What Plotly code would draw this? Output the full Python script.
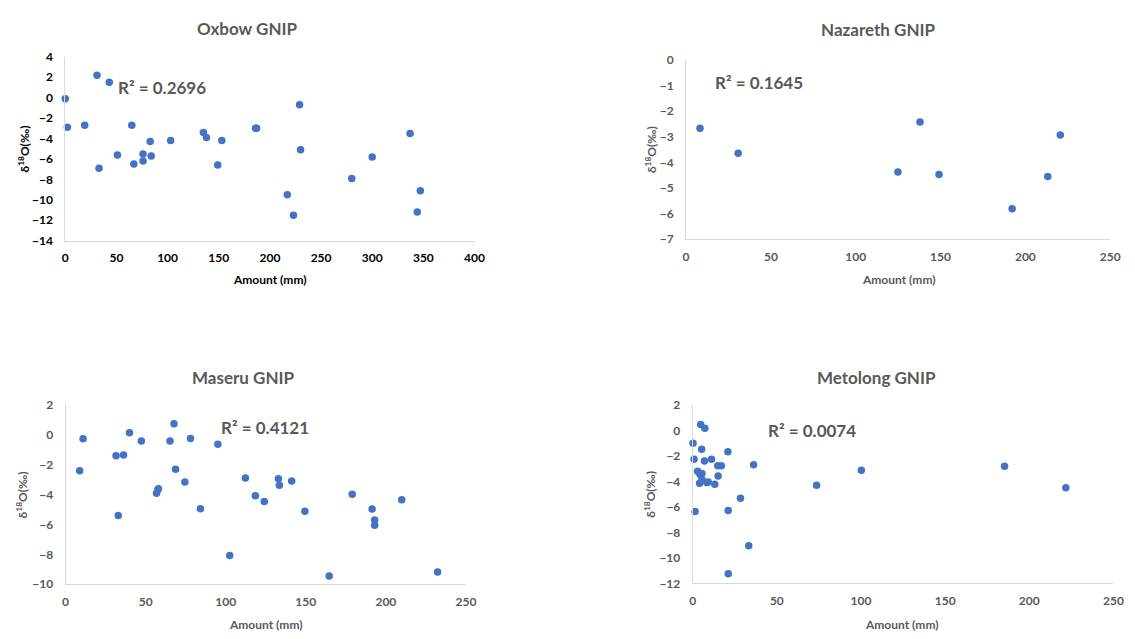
import plotly.graph_objects as go

# ---------------- data ----------------
oxbow_amount = [0, 2, 31, 43, 19, 33, 51, 65, 67, 76, 76, 83, 84, 103, 135, 138, 149, 153,
                186, 187, 229, 230, 217, 223, 280, 300, 337, 347, 344]
oxbow_d18o = [-0.1, -2.9, 2.2, 1.5, -2.7, -6.9, -5.6, -2.7, -6.5, -5.5, -6.2, -4.3, -5.7, -4.2,
              -3.4, -3.9, -6.6, -4.2, -3.0, -3.0, -0.7, -5.1, -9.5, -11.5, -7.9, -5.8, -3.5,
              -9.1, -11.2]

nazareth_amount = [8.2, 30.7, 124.9, 137.9, 149.1, 192.2, 213.2, 220.6]
nazareth_d18o = [-2.67, -3.64, -4.38, -2.42, -4.47, -5.81, -4.55, -2.93]

maseru_amount = [8.8, 10.9, 31.5, 32.9, 36.2, 39.9, 47.3, 56.8, 57.6, 58.0, 65.2, 67.7, 68.7,
                 74.5, 78.0, 84.2, 95.1, 102.5, 112.3, 118.5, 124.1, 132.9, 133.5, 141.2,
                 149.4, 164.6, 179.0, 191.4, 193.0, 193.0, 209.9, 232.3]
maseru_d18o = [-2.39, -0.25, -1.4, -5.4, -1.34, 0.15, -0.4, -3.9, -3.67, -3.6, -0.4, 0.76, -2.3,
               -3.15, -0.23, -4.94, -0.62, -8.08, -2.89, -4.07, -4.46, -2.93, -3.37, -3.08,
               -5.11, -9.46, -3.98, -4.96, -5.70, -6.05, -4.35, -9.19]

metolong_amount = [0.2, 0.8, 1.4, 2.9, 4.1, 4.7, 4.3, 5.3, 5.5, 5.5, 7.2, 7.0, 8.4, 9.2, 11.2,
                   13.1, 14.9, 15.1, 17.0, 20.9, 21.1, 21.1, 28.4, 33.3, 36.2, 73.6, 100.2,
                   185.3, 221.7]
metolong_d18o = [-1.0, -2.24, -6.35, -3.19, -4.13, 0.49, -3.42, -1.47, -3.37, -3.83, 0.19, -2.39,
                 -4.08, -4.03, -2.24, -4.21, -2.75, -3.57, -2.75, -1.65, -6.28, -11.23, -5.31,
                 -9.04, -2.68, -4.29, -3.11, -2.80, -4.49]

titles = ["Oxbow GNIP", "Nazareth GNIP", "Maseru GNIP", "Metolong GNIP"]
r2_labels = ["R² = 0.2696", "R² = 0.1645", "R² = 0.4121", "R² = 0.0074"]
x_title = "Amount (mm)"
y_title = "δ<sup>18</sup>O(‰)"

# ---------------- layout geometry ----------------
W, H = 1135, 639
FONT = "Lato"
BLUE = "#4472C4"
GREY = "#595959"

panels = [
    dict(x=oxbow_amount, y=oxbow_d18o, px=(63, 477), py=(50, 238.3), xr=[0, 400], yr=[-14, 4],
         dy=2, tc="#000000", r2=(161, 81), yt=21, ttl=(247, 21), xt=(270, 278)),
    dict(x=nazareth_amount, y=nazareth_d18o, px=(691, 1120), py=(53.3, 236.7), xr=[0, 250],
         yr=[-7, 0], dy=1, tc=GREY, r2=(765, 76), yt=655, ttl=(886, 22), xt=(906, 278)),
    dict(x=maseru_amount, y=maseru_d18o, px=(63.3, 468.3), py=(406.7, 590), xr=[0, 250],
         yr=[-10, 2], dy=2, tc=GREY, r2=(265, 430), yt=19, ttl=(243, 378), xt=(266, 631)),
    dict(x=metolong_amount, y=metolong_d18o, px=(697.7, 1123.3), py=(406.7, 589.3),
         xr=[0, 250], yr=[-12, 2], dy=2, tc=GREY, r2=(818, 433), yt=655, ttl=(884, 378),
         xt=(909, 631)),
]

fig = go.Figure()
annotations = []
layout = {}
for i, p in enumerate(panels):
    n = "" if i == 0 else str(i + 1)
    fig.add_trace(go.Scatter(
        x=p["x"], y=p["y"], mode="markers", xaxis="x" + n, yaxis="y" + n,
        marker=dict(color=BLUE, size=7.5), cliponaxis=False, showlegend=False,
        hoverinfo="x+y"))
    layout["xaxis" + n] = dict(
        domain=[p["px"][0] / W, p["px"][1] / W], anchor="y" + n, range=p["xr"], dtick=50,
        showline=True, linecolor="#d9d9d9", linewidth=1, showgrid=False, zeroline=False,
        ticks="", tickfont=dict(family=FONT, size=12, color=p["tc"], weight="bold"),
        ticklabelstandoff=6, fixedrange=True)
    layout["yaxis" + n] = dict(
        domain=[1 - p["py"][1] / H, 1 - p["py"][0] / H], anchor="x" + n, range=p["yr"],
        dtick=p["dy"], showline=True, linecolor="#d9d9d9", linewidth=1, showgrid=False,
        zeroline=False, ticks="",
        tickfont=dict(family=FONT, size=12, color=p["tc"], weight="bold"),
        ticklabelstandoff=9, fixedrange=True)
    annotations.append(dict(
        text=titles[i], x=p["ttl"][0] / W, y=1 - p["ttl"][1] / H, xref="paper", yref="paper",
        showarrow=False, xanchor="center", yanchor="middle",
        font=dict(family=FONT, size=17, color=GREY, weight="bold")))
    annotations.append(dict(
        text=r2_labels[i], x=p["r2"][0] / W, y=1 - p["r2"][1] / H, xref="paper", yref="paper",
        showarrow=False, xanchor="center", yanchor="middle",
        font=dict(family=FONT, size=17, color=GREY, weight="bold")))
    annotations.append(dict(
        text=x_title, x=p["xt"][0] / W, y=1 - p["xt"][1] / H, xref="paper", yref="paper",
        showarrow=False, xanchor="center", yanchor="middle",
        font=dict(family=FONT, size=12, color=p["tc"], weight="bold")))
    annotations.append(dict(
        text=y_title, x=p["yt"] / W, y=1 - (p["py"][0] + p["py"][1]) / 2 / H, xref="paper",
        yref="paper", showarrow=False, xanchor="center", yanchor="middle", textangle=-90,
        font=dict(family=FONT, size=12, color="#000000" if i == 0 else GREY, weight="bold")))

fig.update_layout(
    width=W, height=H, margin=dict(l=0, r=0, t=0, b=0),
    paper_bgcolor="white", plot_bgcolor="white",
    annotations=annotations, **layout)

fig.write_html("out.html")
